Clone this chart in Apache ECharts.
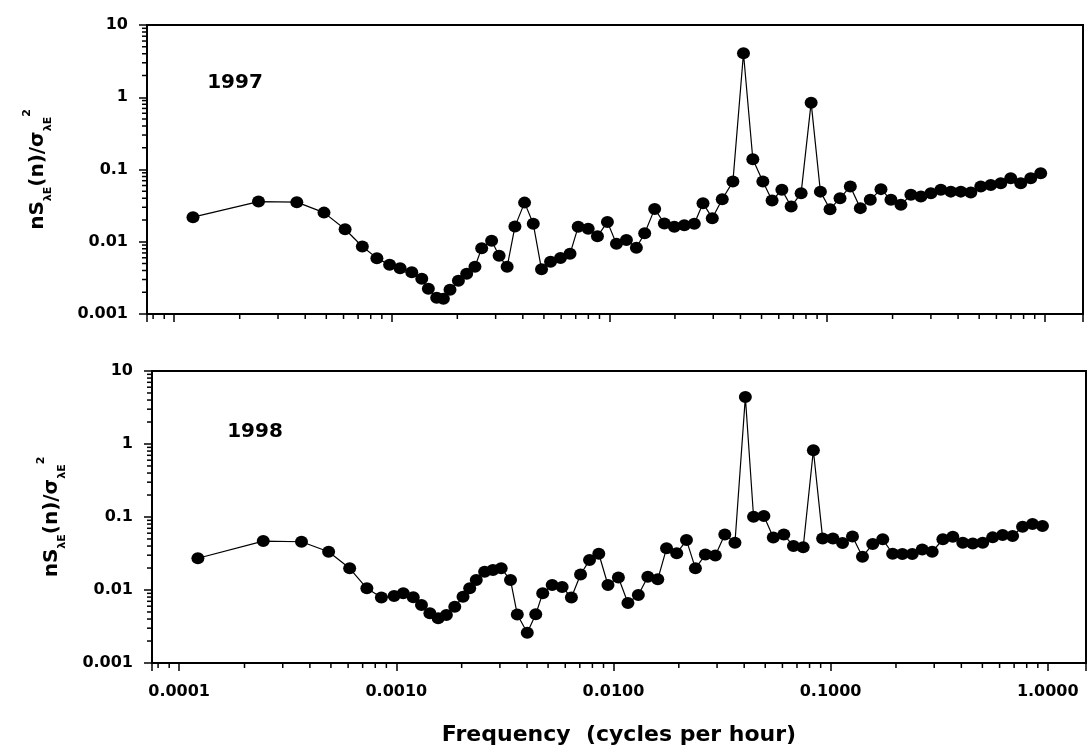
<!DOCTYPE html>
<html>
<head>
<meta charset="utf-8">
<script src="https://cdn.jsdelivr.net/npm/echarts@6/dist/echarts.min.js"></script>
<style>
html,body{margin:0;padding:0;background:#fff;}
#chart{width:1090px;height:753px;}
</style>
</head>
<body>
<div id="chart"></div>
<script>
// ---- data ----
const freq1997 = [0.000122,0.000244,0.000366,0.000488,0.00061,0.000732,0.000854,0.000977,0.001092,0.001235,0.001373,0.001472,0.001608,0.001726,0.001851,0.002023,0.002208,0.00241,0.002588,0.002875,0.003112,0.003388,0.003679,0.004074,0.004467,0.004875,0.005363,0.005959,0.00659,0.007184,0.007986,0.00881,0.00979,0.01077,0.01197,0.0133,0.01452,0.01614,0.01788,0.01987,0.02208,0.02455,0.02691,0.02969,0.03299,0.03693,0.0413,0.0456,0.0507,0.0559,0.062,0.0684,0.076,0.0845,0.0932,0.1032,0.1147,0.1279,0.1422,0.158,0.1769,0.1966,0.2185,0.2428,0.2699,0.2999,0.3333,0.3705,0.4117,0.4576,0.5086,0.5652,0.6284,0.6982,0.7762,0.8627,0.9587];
const val1997 = [0.0219,0.036,0.0353,0.0253,0.0149,0.00859,0.00593,0.00479,0.00431,0.00377,0.00307,0.00223,0.00168,0.00162,0.00216,0.00288,0.0036,0.0045,0.00815,0.0103,0.00638,0.0045,0.0162,0.0348,0.0177,0.00415,0.00527,0.00598,0.00681,0.0161,0.0151,0.0119,0.0188,0.00935,0.0106,0.00824,0.01315,0.0285,0.0179,0.0161,0.0169,0.0177,0.0342,0.0212,0.0388,0.068,4.06,0.1387,0.068,0.0372,0.0523,0.0307,0.047,0.842,0.0494,0.0282,0.0401,0.0581,0.0292,0.038,0.0535,0.038,0.0324,0.0446,0.0422,0.047,0.0523,0.0494,0.0494,0.048,0.0581,0.0612,0.0646,0.0758,0.0646,0.0758,0.0889];
const freq1998 = [0.000122,0.000244,0.000366,0.000488,0.00061,0.000732,0.000854,0.000977,0.001077,0.001197,0.001306,0.001428,0.001559,0.001701,0.001859,0.002029,0.002178,0.002335,0.002552,0.002786,0.003041,0.003357,0.003607,0.00401,0.004387,0.004724,0.005222,0.005805,0.006403,0.007056,0.00776,0.008561,0.009436,0.01054,0.01166,0.01302,0.0144,0.016,0.01756,0.01956,0.02169,0.02385,0.02651,0.02946,0.03257,0.03627,0.0405,0.04418,0.04929,0.05446,0.06088,0.06744,0.07478,0.0833,0.0919,0.1025,0.1135,0.1261,0.1402,0.1563,0.1738,0.1931,0.214,0.2377,0.2642,0.2936,0.3289,0.3654,0.4061,0.4514,0.5017,0.5575,0.6197,0.6888,0.7655,0.8506,0.9456];
const val1998 = [0.0272,0.0468,0.0458,0.0334,0.0198,0.01055,0.00789,0.00828,0.00901,0.00794,0.00623,0.0048,0.0041,0.00455,0.00591,0.0081,0.01055,0.0137,0.0178,0.0188,0.0198,0.0137,0.00462,0.0026,0.00464,0.00901,0.0117,0.011,0.00789,0.0163,0.0257,0.0314,0.0117,0.0148,0.00664,0.00855,0.0152,0.014,0.0372,0.0318,0.0483,0.0198,0.0306,0.0296,0.0574,0.0444,4.41,0.1007,0.1035,0.0523,0.0574,0.04,0.0384,0.822,0.0509,0.0509,0.044,0.054,0.0286,0.0426,0.0494,0.0314,0.0312,0.0312,0.036,0.0334,0.0494,0.0536,0.0444,0.0435,0.0444,0.0526,0.0565,0.055,0.0735,0.08,0.0751];
const panelLabels = ['1997', '1998'];
const xTickLabels = ['0.0001', '0.0010', '0.0100', '0.1000', '1.0000'];   // 1e-4 .. 1e0
const yTickLabels = ['0.001', '0.01', '0.1', '1', '10'];                  // 1e-3 .. 1e1
const xTitle = 'Frequency  (cycles per hour)';

// ---- axis settings ----
const X_MIN = 0.000075, X_MAX = 1.5;
const Y_MIN = 0.001, Y_MAX = 10;
const FONT = 'DejaVu Sans';

function decadeLabel(labels, firstExp) {
  return function (v) {
    const e = Math.log10(v);
    const r = Math.round(e);
    if (Math.abs(e - r) > 0.01) return '';
    const s = labels[r - firstExp];
    return s === undefined ? '' : s;
  };
}

function minorValues(lo, hi) {
  const out = [];
  for (let e = Math.floor(Math.log10(lo)); e <= Math.ceil(Math.log10(hi)); e++) {
    for (let m = 2; m <= 9; m++) {
      const v = m * Math.pow(10, e);
      if (v > lo * 1.0001 && v < hi * 0.9999) out.push(v);
    }
  }
  return out;
}

function minorTicks(idx, dir) {
  const vals = dir === 'x' ? minorValues(X_MIN, X_MAX) : minorValues(Y_MIN, Y_MAX);
  return {
    type: 'custom', xAxisIndex: idx, yAxisIndex: idx, silent: true, clip: false, z: 6,
    data: vals.map(v => dir === 'x' ? [v, Y_MIN] : [X_MIN, v]),
    renderItem: function (params, api) {
      const p = api.coord([api.value(0), api.value(1)]);
      const len = 5;
      const shape = dir === 'x'
        ? { x1: p[0], y1: p[1], x2: p[0], y2: p[1] + len }
        : { x1: p[0], y1: p[1], x2: p[0] - len, y2: p[1] };
      return { type: 'line', shape: shape, style: { stroke: '#000', lineWidth: 1.5 } };
    }
  };
}

const yName = '{a|nS}{s|λE}{a|(n)/σ}{s|λE}{p|2}';
const yNameStyle = {
  rich: {
    a: { fontFamily: FONT, fontWeight: 'bold', fontSize: 20, color: '#000', lineHeight: 32, verticalAlign: 'middle' },
    s: { fontFamily: FONT, fontWeight: 'bold', fontSize: 11, color: '#000', lineHeight: 13, verticalAlign: 'bottom' },
    p: { fontFamily: FONT, fontWeight: 'bold', fontSize: 11, color: '#000', lineHeight: 13, verticalAlign: 'top' }
  }
};

function xAxisDef(idx, showLabels) {
  return {
    type: 'log', gridIndex: idx, min: X_MIN, max: X_MAX, logBase: 10,
    splitLine: { show: false },
    axisLine: { show: true, lineStyle: { color: '#000', width: 2 } },
    axisTick: { show: true, inside: false, length: 8, lineStyle: { color: '#000', width: 1.5 } },
    axisLabel: {
      show: showLabels, margin: 21, color: '#000', fontFamily: FONT, fontWeight: 'bold', fontSize: 16,
      formatter: decadeLabel(xTickLabels, -4), showMinLabel: true, showMaxLabel: true, hideOverlap: false
    },
    name: showLabels ? xTitle : '',
    nameLocation: 'middle', nameGap: 61,
    nameTextStyle: { fontFamily: FONT, fontWeight: 'bold', fontSize: 22, color: '#000' }
  };
}

function yAxisDef(idx, gap) {
  return {
    type: 'log', gridIndex: idx, min: Y_MIN, max: Y_MAX, logBase: 10,
    splitLine: { show: false },
    axisLine: { show: true, lineStyle: { color: '#000', width: 2 } },
    axisTick: { show: true, inside: false, length: 8, lineStyle: { color: '#000', width: 1.5 } },
    axisLabel: {
      margin: 19, color: '#000', fontFamily: FONT, fontWeight: 'bold', fontSize: 16,
      formatter: decadeLabel(yTickLabels, -3)
    },
    name: yName, nameLocation: 'middle', nameRotate: 90, nameGap: gap,
    nameTextStyle: yNameStyle
  };
}

function lineSeries(idx, fx, fy) {
  return {
    type: 'line', xAxisIndex: idx, yAxisIndex: idx, z: 4,
    data: fx.map((f, i) => [f, fy[i]]),
    symbol: 'circle', symbolSize: [13, 12], showSymbol: true,
    lineStyle: { color: '#000', width: 1.2 },
    itemStyle: { color: '#000' },
    emphasis: { disabled: true }, animation: false
  };
}

const chart = echarts.init(document.getElementById('chart'), null, { renderer: 'canvas' });
chart.setOption({
  animation: false,
  backgroundColor: '#fff',
  grid: [
    { left: 147, top: 25, width: 936, height: 289, show: true, borderColor: '#000', borderWidth: 2, backgroundColor: 'transparent' },
    { left: 152, top: 371, width: 934, height: 292, show: true, borderColor: '#000', borderWidth: 2, backgroundColor: 'transparent' }
  ],
  xAxis: [xAxisDef(0, false), xAxisDef(1, true)],
  yAxis: [yAxisDef(0, 93), yAxisDef(1, 84)],
  series: [
    lineSeries(0, freq1997, val1997),
    lineSeries(1, freq1998, val1998),
    minorTicks(0, 'x'), minorTicks(0, 'y'),
    minorTicks(1, 'x'), minorTicks(1, 'y')
  ],
  graphic: [
    { type: 'text', x: 235, y: 83, style: { text: panelLabels[0], font: 'bold 20px "DejaVu Sans"', fill: '#000', align: 'center', verticalAlign: 'middle' } },
    { type: 'text', x: 255, y: 432, style: { text: panelLabels[1], font: 'bold 20px "DejaVu Sans"', fill: '#000', align: 'center', verticalAlign: 'middle' } }
  ]
});
</script>
</body>
</html>
